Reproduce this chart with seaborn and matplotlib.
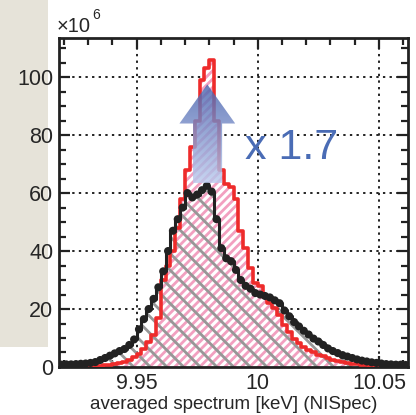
import numpy as np
import pandas as pd
import matplotlib
matplotlib.use("Agg")
import matplotlib.pyplot as plt
from matplotlib.patches import Polygon, Rectangle
from matplotlib.ticker import MultipleLocator
import seaborn as sns

# binned spectra (counts in units of 1e6), bin width 2 eV
bin_lo = 9.918
bin_w = 0.002
black_counts = [0.8, 0.9, 0.9, 1.0, 1.1, 1.2, 1.4, 1.7, 2.4, 3.1,
                3.9, 4.7, 5.5, 6.2, 7.6, 9.5, 13.0, 16.5, 20.0, 23.5,
                27.5, 33.0, 40.0, 47.0, 51.0, 55.0, 60.0, 58.5, 59.5, 61.0,
                62.5, 60.5, 51.0, 41.0, 37.5, 36.5, 33.5, 30.0, 28.0, 27.0,
                25.5, 25.0, 24.5, 24.0, 23.0, 22.0, 19.5, 17.5, 15.5, 14.0,
                12.5, 11.2, 9.8, 8.8, 7.6, 6.4, 5.5, 4.8, 4.1, 3.6,
                3.1, 2.6, 2.2, 1.9, 1.6, 1.4, 1.2, 1.0, 0.9, 0.8,
                0.8, 0.7]
red_counts = [0.2, 0.2, 0.2, 0.3, 0.3, 0.3, 0.4, 0.4, 0.5, 0.6,
              0.8, 1.0, 1.3, 1.7, 2.4, 3.4, 4.4, 6.2, 8.6, 11.0,
              17.0, 30.0, 35.0, 40.0, 48.0, 58.0, 68.0, 76.0, 85.0, 99.0,
              103.0, 106.0, 85.0, 68.0, 63.0, 62.0, 58.0, 47.0, 41.0, 34.0,
              29.0, 28.0, 24.0, 22.0, 20.5, 18.0, 14.5, 12.0, 9.8, 8.2,
              6.8, 5.9, 5.0, 4.3, 3.7, 3.0, 2.4, 2.0, 1.7, 1.4,
              1.1, 0.9, 0.7, 0.6, 0.5, 0.4, 0.4, 0.3, 0.3, 0.3,
              0.2, 0.2]

edges = [bin_lo + bin_w * i for i in range(len(black_counts) + 1)]
centers = [0.5 * (a + b) for a, b in zip(edges[:-1], edges[1:])]
df = pd.DataFrame({"energy": centers, "black": black_counts, "red": red_counts})

ratio_label = "x 1.7"
xlabel = "averaged spectrum [keV] (NISpec)"

sns.set_style("ticks")
plt.rcParams["font.family"] = ["Liberation Sans", "DejaVu Sans"]

fig = plt.figure(figsize=(4.16, 4.15), dpi=100)
fig.patches.append(Rectangle((0, 0.164), 0.1154, 0.836, transform=fig.transFigure,
                             facecolor="#e6e3d9", edgecolor="none", zorder=-10))
ax = fig.add_axes([0.1418, 0.1157, 0.839, 0.7927])

# pink hatched fill of the red spectrum
plt.rcParams["hatch.linewidth"] = 2.0
sns.histplot(data=df, x="energy", weights="red", bins=edges, element="step",
             fill=True, color="#f2a2c2", facecolor="white", edgecolor="#f2a0c0",
             hatch="////", linewidth=0, ax=ax, zorder=1)
# grey hatched fill of the black spectrum
plt.rcParams["hatch.linewidth"] = 2.0
sns.histplot(data=df, x="energy", weights="black", bins=edges, element="step",
             fill=True, color="#9a9a9a", facecolor=(1, 1, 1, 0), edgecolor="#979797",
             hatch="\\\\", linewidth=0, ax=ax, zorder=2)
# outlines
sns.histplot(data=df, x="energy", weights="red", bins=edges, element="step",
             fill=False, color="#ee2b2b", linewidth=2.6, ax=ax, zorder=3)
sns.histplot(data=df, x="energy", weights="black", bins=edges, element="step",
             fill=False, color="#222222", linewidth=2.2, ax=ax, zorder=4)
sns.scatterplot(data=df, x="energy", y="black", color="#222222", s=34,
                edgecolor="none", ax=ax, zorder=5)

# enhancement arrow with vertical gradient
arrow_pts = [(9.9733, 63.5), (9.9733, 84), (9.9677, 84), (9.9792, 97.5),
             (9.9907, 84), (9.9853, 84), (9.9853, 63.5)]
poly = Polygon(arrow_pts, closed=True, facecolor="none", edgecolor="none")
ax.add_patch(poly)
grad = np.linspace(0, 1, 256).reshape(-1, 1)
cmap = matplotlib.colors.LinearSegmentedColormap.from_list("arr", ["#bccbee", "#4862ad"])
im = ax.imshow(grad, extent=[9.9677, 9.9907, 63.5, 97.5], origin="lower",
               cmap=cmap, aspect="auto", alpha=0.82, zorder=6)
im.set_clip_path(poly)

ax.text(9.9946, 75.5, ratio_label, color="#4a6cb5", fontsize=31,
        va="center", ha="left", zorder=7)

ax.set_xlim(9.918, 10.062)
ax.set_ylim(0, 113.5)
ax.xaxis.set_major_locator(MultipleLocator(0.05))
ax.xaxis.set_minor_locator(MultipleLocator(0.01))
ax.yaxis.set_major_locator(MultipleLocator(20))
ax.yaxis.set_minor_locator(MultipleLocator(5))
ax.set_xticks([9.95, 10.0, 10.05])
ax.set_xticklabels(["9.95", "10", "10.05"])
ax.grid(True, which="major", color="#222222", linestyle=(0, (1.2, 2.2)), linewidth=1.4)
ax.tick_params(which="both", direction="in", top=True, right=True,
               width=1.6, color="#222222", labelsize=15.5, pad=4)
ax.tick_params(which="major", length=8)
ax.tick_params(which="minor", length=5)
for s in ax.spines.values():
    s.set_visible(True)
    s.set_linewidth(2.0)
    s.set_color("#222222")
ax.set_xlabel(xlabel, fontsize=13.5, labelpad=2)
ax.set_ylabel("")

fig.text(0.137, 0.913, "\u00d710", fontsize=14.5, ha="left", va="bottom")
fig.text(0.221, 0.948, "6", fontsize=10, ha="left", va="bottom")

fig.savefig("out.png", dpi=100)
